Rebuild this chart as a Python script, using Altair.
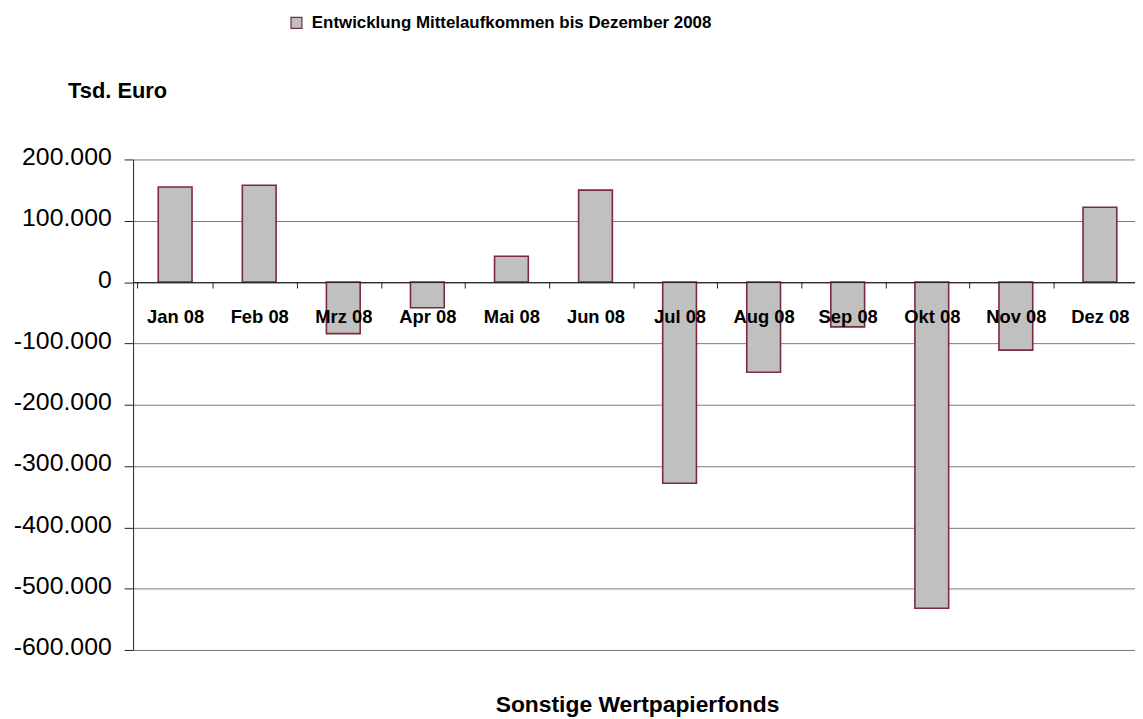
import altair as alt
import pandas as pd

# --- data ---
months = ["Jan 08", "Feb 08", "Mrz 08", "Apr 08", "Mai 08", "Jun 08",
          "Jul 08", "Aug 08", "Sep 08", "Okt 08", "Nov 08", "Dez 08"]
values = [155000, 158000, -84000, -42000, 42000, 150000,
          -328000, -147000, -73000, -532000, -111000, 122000]
series_name = "Entwicklung Mittelaufkommen bis Dezember 2008"
y_tick_values = [200000, 100000, 0, -100000, -200000, -300000, -400000, -500000, -600000]
y_tick_labels = ["200.000", "100.000", "0", "-100.000", "-200.000", "-300.000",
                 "-400.000", "-500.000", "-600.000"]
y_title = "Tsd. Euro"
x_title = "Sonstige Wertpapierfonds"

df = pd.DataFrame({"Monat": months, "Wert": values, "Serie": [series_name] * len(months)})

label_map = "{" + ",".join(f"'{v}':'{l}'" for v, l in zip(y_tick_values, y_tick_labels)) + "}"
label_expr = f"{label_map}[''+datum.value]"

FONT = "Liberation Sans"
FILL = "#C0C0C0"
STROKE = "#7A2A3C"

chart = alt.Chart(df).mark_bar(
    size=34, stroke=STROKE, strokeWidth=1.6
).encode(
    x=alt.X("Monat:N", sort=months,
            scale=alt.Scale(range=[0, 1016]),
            axis=alt.Axis(title=None, orient="bottom", offset=-370.5,
                          labelAngle=0, labelFont=FONT, labelFontSize=18.5,
                          labelFontWeight="bold", labelColor="#000000",
                          labelBaseline="top", labelPadding=20,
                          labelOverlap=False, tickBand="extent",
                          tickSize=6, tickColor="#222222", tickWidth=1,
                          domain=True, domainColor="#222222", domainWidth=1,
                          grid=False, zindex=1)),
    y=alt.Y("Wert:Q",
            scale=alt.Scale(domain=[-600000, 200000], nice=False, zero=False),
            axis=alt.Axis(values=y_tick_values, labelExpr=label_expr,
                          labelFont=FONT, labelFontSize=25, labelColor="#000000",
                          labelPadding=13, labelOffset=-3, tickSize=9, tickColor="#222222",
                          domainColor="#222222", gridColor="#7A7A7A", gridWidth=1,
                          title=y_title, titleFont=FONT, titleFontSize=22,
                          titleFontWeight="bold", titleColor="#000000",
                          titleAngle=0, titleAlign="left", titleBaseline="alphabetic",
                          titleX=-66, titleY=-62)),
    color=alt.Color("Serie:N", scale=alt.Scale(range=[FILL]),
                    legend=alt.Legend(title=None, orient="none", legendX=156, legendY=-146,
                                      symbolType="square", symbolSize=121,
                                      symbolStrokeColor=STROKE, symbolStrokeWidth=1.2,
                                      symbolFillColor=FILL,
                                      labelFont=FONT, labelFontSize=17,
                                      labelFontWeight="bold", labelColor="#000000",
                                      labelOffset=7, labelLimit=1000))
).properties(
    width=1009,
    height=494,
    title=alt.TitleParams(text=x_title, orient="bottom", frame="group", anchor="middle",
                          dx=3.5, offset=52, baseline="alphabetic", font=FONT,
                          fontSize=23, fontWeight="bold", color="#000000"),
    autosize=alt.AutoSizeParams(type="none"),
    padding={"left": 126, "top": 150, "right": 0, "bottom": 67},
).configure_view(stroke=None)

chart.save("out.html", embed_options={"renderer": "svg", "actions": False})
